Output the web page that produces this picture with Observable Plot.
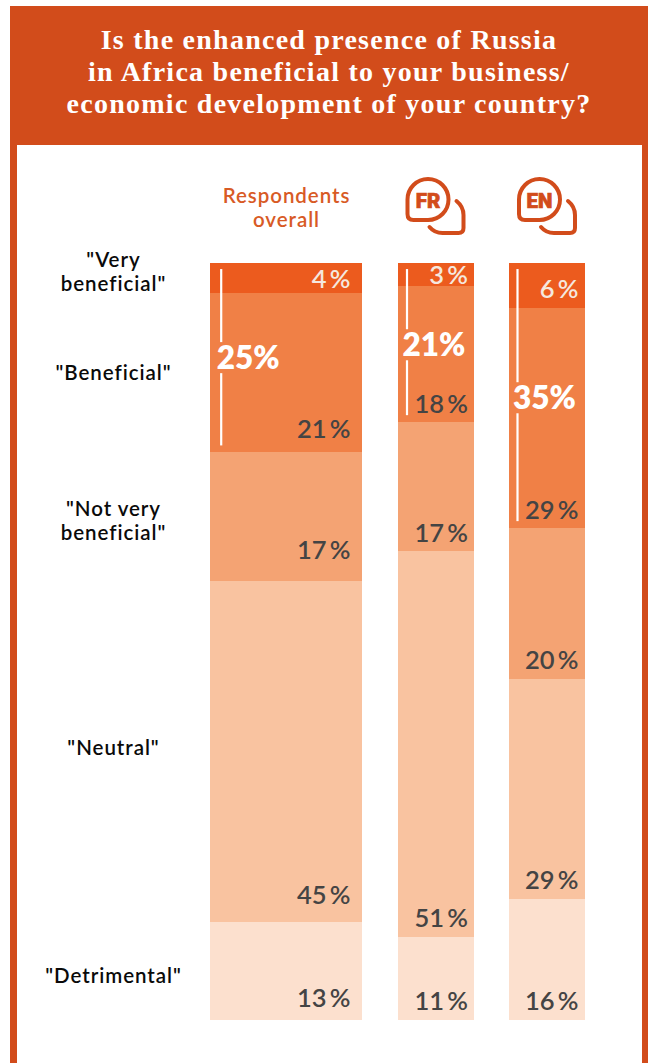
<!DOCTYPE html>
<html><head><meta charset="utf-8">
<script src="https://cdn.jsdelivr.net/npm/d3@7"></script>
<script src="https://cdn.jsdelivr.net/npm/@observablehq/plot@0.6"></script>
<style>
html,body{margin:0;padding:0;background:#fff;width:653px;height:1063px;overflow:hidden}
#card{position:absolute;left:10px;top:6px;width:638px;height:1057px;background:#d24c1b}
#title{position:absolute;left:0;top:0;width:638px;height:139px;box-sizing:border-box;padding-top:18px;text-align:center;color:#fff;
 font:bold 28px/32px "Liberation Serif",serif;letter-spacing:1.25px}
#chart{position:absolute;left:7px;top:139px;width:625px;height:918px;background:#fff}
#chart svg{display:block;background:transparent}
.lab text{letter-spacing:.95px}
.bar rect{shape-rendering:crispEdges}
</style></head><body>
<div id="card">
<div id="title">Is the enhanced presence of Russia<br>in Africa beneficial to your business/<br>economic development of your country?</div>
<div id="chart"></div>
</div>
<script>
const columns = ["Respondents overall", "FR", "EN"];
const answers = ['"Very beneficial"', '"Beneficial"', '"Not very beneficial"', '"Neutral"', '"Detrimental"'];
const overallValues = [4, 21, 17, 45, 13];
const frValues = [3, 18, 17, 51, 11];
const enValues = [6, 29, 20, 29, 16];
const favourableTotals = [25, 21, 35];

// layout only
const colUnits = [2, 1, 1], gapUnits = 0.467;
const fills = ["#ec5b1e", "#f08046", "#f4a373", "#f9c3a0", "#fce0ce"];
const inks = ["#f5e8df", "#444444", "#444444", "#444444", "#444444"];
const pxPerPct = 7.57;
const labelLift = [[6, 15, 22, 18, 14], [2.5, 9, 9, 10, 11], [11, 9, 11, 10, 11]];
const rightPad = [12, 6, 7];
const bracketInset = [10.7, 9, 8];
const nudge = [-7, -1, 3.5, -4, 4];

const colStart = []; let acc = 0;
for (const u of colUnits) { colStart.push(acc); acc += u + gapUnits; }
const xMax = acc - gapUnits;
const seriesValues = [overallValues, frValues, enValues];
const segments = columns.flatMap((c, i) => {
  let run = 0;
  return seriesValues[i].map((v, j) => {
    const y1 = run; run += v;
    return {col: i, j, v, y1, y2: run, x1: colStart[i], x2: colStart[i] + colUnits[i],
      labelY: run - labelLift[i][j] / pxPerPct, xEnd: colStart[i] + colUnits[i] - rightPad[i] / 76};
  });
});
const brackets = columns.map((c, i) => {
  const t = favourableTotals[i], mid = t / 2 + (i ? 0.3 : 0);
  return {t, mid, x: colStart[i] + bracketInset[i] / 76, lower: mid + 2.05, upper: mid - 2.05, end: t - 0.9};
});
const labelX = -97 / 76;
const labelRows = answers.map((a, j) => {
  const seg = segments[j];
  return {a, mid: (seg.y1 + seg.y2) / 2 + nudge[j] / pxPerPct, j};
});

function bubble(col, label) {
  return (index, {x, y}) => {
    const cx = x(colStart[col] + colUnits[col] / 2), cy = y(0) - 63;
    const g = d3.create("svg:g").attr("transform", `translate(${cx},${cy})`)
      .attr("fill", "none").attr("stroke", "#d24c1b").attr("stroke-width", 4).attr("stroke-linecap", "round");
    g.append("path").attr("d", "M-28,-0.5 A20.5,20.5 0 1 1 -7.5,20 L-22,20 Q-28,20 -28,14 Z");
    g.append("path").attr("d", "M21,1 C26,5 28,10 28,15 L28,28 Q28,33 23,33 L7,33 Q-1,33 -6,27");
    g.append("text").attr("x", -7.5).attr("y", 7.5).attr("text-anchor", "middle").attr("fill", "#d24c1b")
      .attr("stroke", "#d24c1b").attr("stroke-width", 0.7)
      .attr("font-family", "Roboto,sans-serif").attr("font-weight", 900).attr("font-size", 20.5).text(label);
    return g.node();
  };
}

const numFont = {fontFamily: "Lato, sans-serif", fontSize: 25.5, fontWeight: 600, textAnchor: "end", lineAnchor: "bottom"};
const plot = Plot.plot({
  width: 625, height: 918, margin: 0,
  x: {type: "linear", domain: [0, xMax], range: [210 - 17, 585 - 17], axis: null},
  y: {type: "linear", domain: [0, 100], range: [263 - 145, 1020 - 145], axis: null},
  marks: [
    Plot.rect(segments, {x1: "x1", x2: "x2", y1: "y1", y2: "y2", fill: d => fills[d.j], className: "bar"}),
    Plot.text(segments, {x: "xEnd", y: "labelY", text: d => d.v + "\u2009%", fill: d => inks[d.j], ...numFont}),
    Plot.ruleX(brackets, {x: "x", y1: 0.8, y2: "upper", stroke: "#fff", strokeWidth: 2.2}),
    Plot.ruleX(brackets, {x: "x", y1: "lower", y2: "end", stroke: "#fff", strokeWidth: 2.2}),
    Plot.text(brackets, {x: d => d.x - 4.5 / 76, y: d => d.mid, dy: 1, text: d => d.t + "%", fill: "#fff",
      fontFamily: "Lato, sans-serif", fontSize: 31.5, fontWeight: 800, textAnchor: "start"}),
    Plot.text(labelRows, {x: labelX, y: "mid", text: d => d.a.replace('"Very ', '"Very\n').replace('"Not very ', '"Not very\n'),
      fill: "#0a0a0a", fontFamily: "Lato, sans-serif", fontSize: 20.5, fontWeight: 600, lineHeight: 1.17, textAnchor: "middle", className: "lab"}),
    Plot.text(["Respondents\noverall"], {x: colStart[0] + colUnits[0] / 2, y: -(263 - 207) / pxPerPct, text: d => d,
      fill: "#d85a25", fontFamily: "Lato, sans-serif", fontSize: 20.5, fontWeight: 600, lineHeight: 1.17, textAnchor: "middle", className: "lab"}),
    bubble(1, "FR"),
    bubble(2, "EN")
  ]
});
document.getElementById("chart").append(plot);
</script>
</body></html>
